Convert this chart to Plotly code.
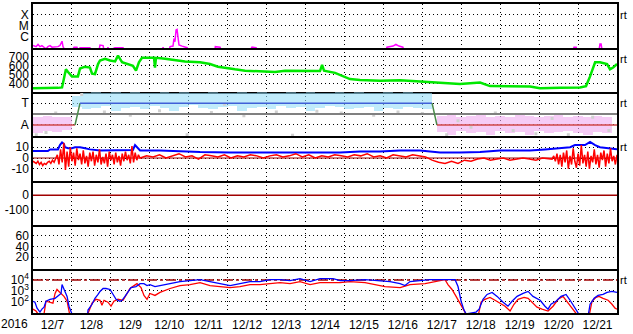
import plotly.graph_objects as go
from plotly.subplots import make_subplots

# ---------------- data (time in hours from 2016-12-07 00:00 UT) ----------------
day_labels = ["12/7", "12/8", "12/9", "12/10", "12/11", "12/12", "12/13", "12/14",
              "12/15", "12/16", "12/17", "12/18", "12/19", "12/20", "12/21"]

# X-ray flux, log10(W/m^2)
xray_t = [0, 1.9, 3.1, 4.3, 5.5, 6.8, 8.0, 9.2, 10.5, 11.7, 13.6, 15.4, 16.6, 17.9, 18.5, 19.7,
          24.0, 25.3, 27.1, 27.7, 29.0, 35.1, 35.8, 40.7, 41.3, 43.2, 43.8, 45.6, 46.2, 46.9,
          50.5, 55.5, 56.1, 79.5, 80.2, 80.8, 83.9, 84.5, 86.3, 86.9, 87.5, 88.2, 88.8, 89.4,
          90.0, 91.9, 95.0, 95.6, 112.1, 112.4, 114.0, 115.3, 115.9, 133.8, 135.0, 137.5, 138.1,
          217.6, 218.2, 221.9, 223.7, 225.6, 228.0, 228.7, 332.9, 333.5, 334.8, 335.4,
          348.9, 349.5, 350.2, 350.8, 360]
xray_v = [-6.85, -6.95, -6.75, -6.95, -6.85, -7.0, -7.15, -6.95, -6.85, -7.0, -7.0, -6.95, -6.85,
          -6.45, -6.95, -7.3, -7.3, -7.0, -7.0, -7.3, -7.05, -7.05, -7.3, -7.3, -6.8, -6.85, -7.3,
          -7.3, -7.0, -7.3, -7.05, -7.05, -7.3, -7.3, -7.0, -7.3, -7.3, -6.95, -6.9, -6.2, -6.5,
          -5.4, -5.35, -5.95, -6.8, -6.9, -7.05, -7.3, -7.3, -6.95, -6.95, -7.0, -7.3, -7.3, -7.0,
          -7.05, -7.3, -7.3, -7.0, -6.9, -6.75, -6.9, -7.0, -7.3, -7.3, -7.0, -7.0, -7.3,
          -7.3, -6.7, -6.7, -7.3, -7.3]

# Solar wind speed, km/s
speed_t = [0, 10.5, 15.4, 17.9, 19.1, 20.3, 21.6, 22.8, 24.0, 27.7, 29.0, 32.1, 35.1, 36.4, 38.2,
           40.1, 41.3, 44.4, 47.5, 50.6, 52.4, 54.9, 58.6, 61.6, 63.5, 65.3, 67.2, 72.1, 74.6,
           75.2, 75.8, 81.4, 87.5, 93.7, 103.0, 109.1, 114.0, 118.4, 124.5, 130.7, 139.9, 149.2,
           155.4, 164.6, 176.9, 178.2, 179.4, 186.2, 190.5, 195.4, 201.6, 213.9, 226.3, 238.6,
           250.9, 263.2, 275.6, 281.7, 306.4, 312.5, 324.9, 337.2, 340.9, 343.4, 346.5, 349.5,
           353.9, 355.7, 357.6, 360]
speed_v = [345, 345, 350, 355, 480, 560, 530, 500, 480, 480, 570, 590, 580, 510, 505, 620, 660,
           680, 660, 650, 715, 640, 620, 600, 545, 640, 690, 690, 690, 580, 690, 680, 665, 650,
           640, 620, 590, 575, 560, 545, 535, 530, 545, 545, 540, 610, 545, 520, 485, 450, 440,
           430, 435, 420, 405, 395, 410, 370, 365, 345, 350, 355, 370, 480, 640, 640, 620, 560,
           580, 620]

# IMF sector (T = +1 toward, A = -1 away)
sector_t = [0, 25.9, 29.0, 246.0, 249.0, 360]
sector_v = [-1, -1, 1, 1, -1, -1]
sector_colors = ["#d04848", "#4a8a4a", "#4060d8", "#4a8a4a", "#d04848"]

toward_c = [27, 33, 39, 45, 51, 57, 63, 69, 75, 81, 87, 93, 99, 105, 111, 117, 123, 129, 135,
            141, 147, 153, 159, 165, 171, 177, 183, 189, 195, 201, 207, 213, 219, 225, 231, 237, 243]
toward_hi = [1.6, 1.9, 2.0, 1.95, 2.0, 1.9, 2.0, 1.95, 1.9, 2.0, 1.95, 2.0, 1.9, 1.95, 2.0, 1.9,
             1.95, 2.0, 1.9, 2.0, 1.95, 1.9, 2.0, 1.95, 2.0, 1.9, 1.95, 2.0, 1.9, 2.0, 1.95, 1.9,
             2.0, 1.95, 2.0, 1.9, 1.95]
toward_lo = [0.6, 0.4, 0.5, 0.7, 0.3, 0.5, 0.6, 0.4, 0.7, 0.5, 0.3, 0.6, 0.8, 0.5, 0.4, 0.6, 0.7,
             0.3, 0.5, 0.6, 0.4, 0.7, 0.5, 0.6, 0.3, 0.5, 0.7, 0.6, 0.4, 0.5, 0.6, 0.3, 0.5, 0.4,
             0.6, 0.5, 0.4]
away_c = [3, 9, 15, 21, 252, 258, 264, 270, 276, 282, 288, 294, 300, 306, 312, 318, 324, 330,
          336, 342, 348, 354]
away_hi = [-0.3, -0.2, -0.25, -0.3, -0.2, -0.1, -0.25, -0.2, -0.15, -0.3, -0.2, -0.25, -0.15,
           -0.2, -0.3, -0.2, -0.15, -0.25, -0.2, -0.3, -0.2, -0.25]
away_lo = [-1.8, -1.6, -1.7, -1.5, -1.7, -1.9, -1.6, -1.8, -1.7, -1.9, -1.6, -1.8, -1.7, -1.9,
           -1.6, -1.8, -1.7, -1.6, -1.8, -1.9, -1.7, -1.8]
grey_t = [2, 8, 14, 30, 44, 60, 78, 95, 110, 118, 130, 150, 160, 175, 190, 210, 225, 240, 255,
          262, 270, 285, 296, 310, 320, 330, 345, 355]
grey_v = [-1.9, -1.7, 0.1, 1.8, 0.2, -0.1, 0.3, -1.9, 0.15, 0.9, -0.15, 0.2, -1.95, 0.25, 0.1,
          -0.1, 0.2, 0.05, -1.9, -0.6, -1.2, 0.1, -1.5, -1.8, -0.4, -1.9, -0.3, -1.5]

# IMF |B| (Bt) and Bz, nT
bt_t = [0, 9.2, 10.5, 15.4, 16.6, 17.9, 19.1, 19.7, 21.6, 24.0, 25.9, 29.0, 32.1, 35.1, 41.3,
        53.6, 61.6, 62.9, 64.1, 66.0, 78.3, 90.6, 103, 121.5, 139.9, 164.6, 189.3, 201.6, 213.9,
        226.3, 238.6, 244.8, 250.9, 263.2, 275.6, 287.9, 306.4, 315.6, 324.9, 331.1, 334.1,
        340.3, 343.4, 346.5, 349.5, 355.7, 360]
bt_v = [6.5, 6.5, 8, 8, 12, 14.5, 13, 10, 9, 9, 10, 10, 9, 8, 7, 7, 7.5, 12, 10, 7, 7, 6, 5.5,
        5, 5, 4.5, 5, 6, 6, 7, 7, 6, 5, 5, 5.5, 7, 7, 8, 9, 10, 12, 12, 15, 12, 10, 9, 8]
# Bz: hourly 00-66 h, every 4 h for 70-318 h, hourly 320-360 h
bz_t = list(range(0, 67)) + list(range(70, 319, 4)) + list(range(320, 361))
bz_v = [-3, -4, -5, -3, -6, -4, -7, -5, -6, -4, -3, -5, -2, -4, -1,
        3, -6, 8, -4, 14, -11, 6, -8, 10, -3, 5, -7, 9, -2, 4, -6,
        7, -5, 2, -8, 5, -3, 6, -7, 3, -4, 8, -6, 1, -5, 4, -8, 6, -2, 3, -6,
        5, -4, 2, -7, 4, -3, 6, -2, 3, -5, 11, -4, 5, -2, 3, 0,
        2, 1, 3, 0, 2, 4, 1, 2, -1, 3, 2, 1, 3, 0, 2, 1, 3, 2, 0, 2, 3, 1, 2, 4, 1, 3, 0, 2, 1,
        3, 2, 1, 3, 2, 4, 1, 2, 0, 3, 2, 1, 3, 2,
        1, -2, -4, -5, -3, -5, -2, -3, -1, 0, -2, -1, 0, -2, -1, 0, -1, -2, 0, -1,
        -1, 2, -3, 4, -6, 3, -8, 5, -4, 7, -10, 2, -6, 9, -3, -9, 4, -7, 12, -5, 3, -8, 6, -10,
        2, -4, 8, -6, 3, -9, 5, -2, 7, -8, 4, -5, 9, -3, 2, -6, 3]

# Dst reference (no data), index level
dst_ref = 0

# >2 MeV electron flux, log10
e_ref = 4
eb_t = [0, 1.2, 2.5, 4.3, 5.5, 6.8, 8.0, 10.5, 13.6, 15.4, 17.3, 17.9, 18.5, 19.7, 21.0, 22.2,
        24.0, 24.7, 33.3, 33.9, 36.4, 38.2, 40.1, 41.3, 43.2, 45.0, 47.5, 49.3, 51.2, 53.6, 54.9,
        56.7, 58.6, 60.4, 63.5, 66.0, 68.4, 70.3, 72.1, 75.2, 78.3, 84.5, 90.6, 96.8, 103.0,
        109.1, 115.3, 121.5, 127.6, 133.8, 139.9, 146.1, 152.3, 158.4, 164.6, 170.8, 176.9,
        185.0, 189.3, 195.4, 204.7, 213.9, 220.1, 226.3, 229.3, 232.4, 238.6, 244.8, 250.9,
        260.2, 262.0, 263.9, 265.7, 267.0, 273.1, 275.0, 277.4, 279.9, 283.0, 286.1, 289.8,
        292.8, 295.3, 298.4, 302.1, 305.2, 308.2, 312.6, 315.6, 317.5, 319.3, 322.4, 325.5,
        328.6, 331.1, 334.1, 336.0, 337.2, 342.2, 343.4, 345.9, 348.3, 351.4, 353.9, 356.9, 360]
eb_v = [2.03, 1.94, 1.39, 1.03, 1.30, 1.48, 2.03, 2.21, 2.30, 2.48, 2.75, 3.57, 3.39, 2.94, 2.48,
        1.57, 0.85, 0.2, 0.2, 1.21, 1.75, 2.30, 2.66, 2.94, 3.21, 3.21, 3.12, 2.66, 2.21, 2.03,
        2.12, 2.48, 2.85, 3.30, 3.39, 3.66, 3.66, 3.48, 3.57, 3.39, 3.48, 3.66, 3.85, 3.94, 4.03,
        3.85, 3.66, 3.48, 3.66, 3.85, 3.85, 4.03, 4.03, 3.94, 4.12, 3.85, 4.12, 4.12, 3.94, 3.94,
        4.03, 3.94, 3.85, 3.66, 3.48, 3.85, 3.94, 4.03, 4.03, 4.03, 3.39, 2.03, 1.21, 0.85, 1.03,
        1.30, 2.21, 2.66, 2.85, 2.48, 1.94, 1.57, 2.03, 2.48, 2.75, 2.94, 2.48, 2.12, 1.57, 1.30,
        1.75, 2.03, 2.48, 2.66, 2.12, 1.48, 1.03, 0.66, 0.66, 1.75, 2.30, 2.57, 2.66, 2.85, 2.94,
        2.85]
er_t = [0, 1.85, 3.1, 6.8, 8.0, 10.5, 12.3, 13.6, 14.8, 16.0, 17.3, 19.1, 21.0, 22.2, 22.8,
        33.3, 34.5, 36.4, 38.8, 41.3, 42.5, 43.8, 46.2, 48.1, 49.9, 52.4, 55.5, 57.3, 59.8,
        62.3, 64.1, 66.6, 68.4, 70.3, 72.1, 75.2, 78.3, 84.5, 90.6, 96.8, 103.0, 109.1, 115.3,
        121.5, 127.6, 133.8, 139.9, 146.1, 152.3, 158.4, 164.6, 170.8, 176.9, 189.3, 195.4,
        204.7, 210.8, 217.0, 226.3, 232.4, 241.7, 247.8, 254.0, 255.8, 258.3, 260.8, 263.2,
        265.7, 267.6, 274.4, 276.2, 278.6, 281.7, 284.8, 287.9, 291.0, 294.1, 296.5, 299.0,
        302.7, 305.2, 307.6, 310.7, 313.8, 317.5, 320.6, 323.7, 326.7, 328.6, 331.1, 334.1,
        336.0, 342.8, 344.6, 347.1, 348.9, 351.4, 354.5, 356.9, 358.8, 360]
er_v = [1.30, 1.12, 0.85, 0.85, 2.03, 1.94, 1.85, 2.75, 3.12, 2.94, 2.75, 2.48, 2.03, 1.12, 0.66,
        0.66, 1.12, 1.85, 2.21, 2.12, 1.66, 2.12, 1.94, 1.57, 2.03, 2.21, 2.12, 2.57, 3.21, 3.48,
        3.66, 3.30, 2.57, 2.21, 2.75, 2.57, 2.85, 3.21, 3.48, 3.57, 3.75, 3.48, 3.39, 3.30, 3.39,
        3.57, 3.57, 3.66, 3.75, 3.66, 3.85, 3.57, 3.75, 3.75, 3.85, 3.75, 3.57, 3.39, 3.30, 3.57,
        3.66, 3.85, 4.03, 3.57, 3.12, 2.48, 1.75, 1.12, 0.66, 0.66, 1.94, 2.21, 2.39, 2.12, 1.85,
        1.57, 1.12, 1.75, 2.21, 2.39, 2.30, 1.94, 1.48, 1.30, 1.12, 1.57, 2.21, 2.48, 2.12, 1.57,
        1.03, 0.66, 0.66, 2.03, 2.39, 2.48, 2.30, 2.12, 1.75, 1.39, 1.30]

# ---------------- figure ----------------
FONT = "Liberation Sans, Arial, sans-serif"
fig = make_subplots(rows=7, cols=1, shared_xaxes=True, vertical_spacing=0)

# panel 1: X-ray
fig.add_trace(go.Scatter(x=xray_t, y=xray_v, mode="lines", line=dict(color="#ff00ff", width=1.5)), 1, 1)
# panel 2: speed
fig.add_trace(go.Scatter(x=speed_t, y=speed_v, mode="lines", line=dict(color="#00e800", width=2.5)), 2, 1)
# panel 3: sector
fig.add_trace(go.Bar(x=toward_c, y=[h - l for h, l in zip(toward_hi, toward_lo)], base=toward_lo,
                     width=6, marker=dict(color="rgba(150,222,248,0.6)", line=dict(width=0))), 3, 1)
fig.add_trace(go.Bar(x=away_c, y=[h - l for h, l in zip(away_hi, away_lo)], base=away_lo,
                     width=6, marker=dict(color="rgba(240,170,240,0.6)", line=dict(width=0))), 3, 1)
fig.add_trace(go.Scatter(x=grey_t, y=grey_v, mode="markers",
                         marker=dict(color="#d0d0d0", size=3, symbol="square")), 3, 1)
fig.add_trace(go.Scatter(x=[0, 360], y=[0, 0], mode="lines", line=dict(color="#808080", width=2)), 3, 1)
for i, c in enumerate(sector_colors):
    fig.add_trace(go.Scatter(x=sector_t[i:i + 2], y=sector_v[i:i + 2], mode="lines",
                             line=dict(color=c, width=1.5)), 3, 1)
# panel 4: IMF
fig.add_trace(go.Scatter(x=[0, 360], y=[0, 0], mode="lines", line=dict(color="#a00000", width=1)), 4, 1)
fig.add_trace(go.Scatter(x=bt_t, y=bt_v, mode="lines", line=dict(color="#0000ff", width=2)), 4, 1)
fig.add_trace(go.Scatter(x=bz_t, y=bz_v, mode="lines", line=dict(color="#ff0000", width=1.5)), 4, 1)
# panel 5: Dst reference line
fig.add_trace(go.Scatter(x=[0, 360], y=[dst_ref, dst_ref], mode="lines",
                         line=dict(color="#a00000", width=1.5)), 5, 1)
# panel 6: empty panel (keeps axes drawn)
fig.add_trace(go.Scatter(x=[None], y=[None], mode="lines"), 6, 1)
# panel 7: electrons
fig.add_trace(go.Scatter(x=[0, 360], y=[e_ref, e_ref], mode="lines",
                         line=dict(color="#a00000", width=1.5, dash="10px,3px,3px,3px")), 7, 1)
fig.add_trace(go.Scatter(x=er_t, y=er_v, mode="lines", line=dict(color="#ff0000", width=1.3)), 7, 1)
fig.add_trace(go.Scatter(x=eb_t, y=eb_v, mode="lines", line=dict(color="#0000ff", width=1.3)), 7, 1)

fig.update_traces(hoverinfo="skip")

y_specs = [
    dict(range=[-7.09, -3.0], tickvals=[-4, -5, -6], ticktext=["X", "M", "C"]),
    dict(range=[300, 800], tickvals=[400, 500, 600, 700]),
    dict(range=[-2.05, 2.0], tickvals=[1, -1], ticktext=["T", "A"]),
    dict(range=[-20.9, 20], tickvals=[-10, 0, 10], ticktext=["-10", "0", "10"]),
    dict(range=[-200, 100], tickvals=[-100, 0], ticktext=["-100", "0"]),
    dict(range=[-1.8, 80], tickvals=[20, 40, 60]),
    dict(range=[0.94, 5.03], tickvals=[2, 3, 4],
         ticktext=["10<sup>2</sup>", "10<sup>3</sup>", "10<sup>4</sup>"]),
]
for i, spec in enumerate(y_specs, start=1):
    fig.update_yaxes(row=i, col=1, fixedrange=True, showline=True, mirror=True, linecolor="black",
                     linewidth=1.5, ticks="", showgrid=True, gridcolor="black", gridwidth=1,
                     griddash="1px,3px", zeroline=False, tickfont=dict(family=FONT, size=12, color="black"),
                     tickmode="array", **spec)
    fig.update_xaxes(row=i, col=1, range=[0, 360], showline=True, mirror=(i == 1), linecolor="black",
                     linewidth=2, ticks="", showgrid=False, zeroline=False,
                     tickmode="array", tickvals=[12 + 24 * k for k in range(15)], ticktext=day_labels,
                     showticklabels=(i == 7), tickfont=dict(family=FONT, size=12, color="black"),
                     minor=dict(tick0=0, dtick=24, showgrid=True, gridcolor="black", gridwidth=1,
                                griddash="1px,3px", ticks=""))

annotations = [dict(text="2016", xref="paper", yref="paper", x=0, y=0, xanchor="right", yanchor="top",
                    xshift=-3, yshift=-2, showarrow=False, font=dict(family=FONT, size=12, color="black"))]
for top in [1, 6 / 7, 5 / 7, 4 / 7, 1 / 7]:
    annotations.append(dict(text="rt", xref="paper", yref="paper", x=1, y=top, xanchor="left",
                            yanchor="top", xshift=1, yshift=-3, showarrow=False,
                            font=dict(family=FONT, size=11, color="black")))

fig.update_layout(width=633, height=334, margin=dict(l=33, r=16, t=2, b=17), showlegend=False,
                  plot_bgcolor="white", paper_bgcolor="white", barmode="overlay", bargap=0,
                  hovermode=False, annotations=annotations, font=dict(family=FONT, color="black"))

fig.write_html("out.html")
